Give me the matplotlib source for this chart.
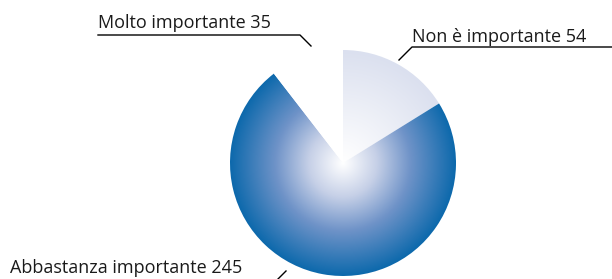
import matplotlib
matplotlib.use("Agg")
import matplotlib.pyplot as plt
import numpy as np
from matplotlib.colors import LinearSegmentedColormap
from matplotlib import font_manager

# Dati
categorie = ["Non è importante", "Abbastanza importante", "Molto importante"]
valori = [54, 245, 35]

# font stretto se disponibile
nomi = {f.name for f in font_manager.fontManager.ttflist}
famiglia = "Liberation Sans Narrow" if "Liberation Sans Narrow" in nomi else "Open Sans"
plt.rcParams["font.family"] = [famiglia, "DejaVu Sans"]

fig = plt.figure(figsize=(6.12, 2.79), dpi=100)
ax = fig.add_axes([0, 0, 1, 1])
ax.set_xlim(0, 612)
ax.set_ylim(0, 279)
ax.set_aspect("equal")
ax.axis("off")

cx, cy, r = 343, 116, 113
wedges, _ = ax.pie(valori, startangle=90, counterclock=False,
                   center=(cx, cy), radius=r, colors=["none"] * 3,
                   wedgeprops=dict(linewidth=0))

# sfumature radiali
cmap_blu = LinearSegmentedColormap.from_list(
    "blu", [(0, "#ffffff"), (0.3, "#c6d0e7"), (0.6, "#6f93c8"), (1, "#0d69ac")])
cmap_chiaro = LinearSegmentedColormap.from_list("chiaro", ["#ffffff", "#dbe0ef"])
cmap_bianco = LinearSegmentedColormap.from_list("bianco", ["#ffffff", "#ffffff"])
mappe = [cmap_chiaro, cmap_blu, cmap_bianco]

g = np.linspace(-1, 1, 400)
X, Y = np.meshgrid(g, g)
dist = np.clip(np.sqrt(X**2 + Y**2), 0, 1)
for w, cm in zip(wedges, mappe):
    im = ax.imshow(dist, cmap=cm, vmin=0, vmax=1, origin="lower",
                   extent=[cx - r, cx + r, cy - r, cy + r], interpolation="bilinear")
    im.set_clip_path(w)
ax.set_xlim(0, 612)
ax.set_ylim(0, 279)

# etichette con linee
col_testo = "#1a1a1a"
fs = 13
ax.text(98, 251, f"{categorie[2]} {valori[2]}", fontsize=fs, color=col_testo,
        ha="left", va="baseline")
ax.plot([98, 300, 311], [244, 244, 233], color="black", lw=1)

ax.text(412, 237, f"{categorie[0]} {valori[0]}", fontsize=fs, color=col_testo,
        ha="left", va="baseline")
ax.plot([612, 412, 399], [232, 232, 219], color="black", lw=1)

ax.text(10, 6, f"{categorie[1]} {valori[1]}", fontsize=fs, color=col_testo,
        ha="left", va="baseline")
ax.plot([278, 286], [0, 8], color="black", lw=1)

fig.savefig("out.png", dpi=100)
